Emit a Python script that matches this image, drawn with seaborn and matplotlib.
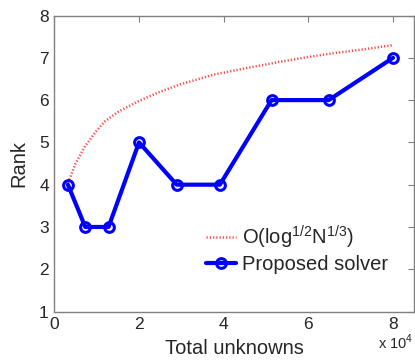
import numpy as np
import pandas as pd
import matplotlib
matplotlib.use("Agg")
import matplotlib.pyplot as plt
import seaborn as sns

# Data (x in units of 10^4)
solver_n = [0.32, 0.73, 1.28, 2.0, 2.89, 3.91, 5.13, 6.48, 8.0]
solver_rank = [4, 3, 3, 5, 4, 4, 6, 6, 7]

# reference curve
bound_n = [0.32, 0.37, 0.5, 0.72, 1.0, 1.2, 1.5, 2.0, 2.5, 3.0, 3.75, 4.5, 5.3, 6.0, 6.6, 7.3, 8.0]
bound_rank = [4.05, 4.16, 4.5, 4.9, 5.28, 5.5, 5.72, 5.98, 6.2, 6.38, 6.6, 6.75, 6.9, 7.02, 7.11, 7.2, 7.3]

x_ticks = [0, 2, 4, 6, 8]
y_ticks = [1, 2, 3, 4, 5, 6, 7, 8]

sns.set_style("white")
plt.rcParams["font.family"] = ["Liberation Sans", "DejaVu Sans"]

fig = plt.figure(figsize=(4.15, 3.61), dpi=100)
ax = fig.add_axes([0.131, 0.137, 0.867, 0.820])

sns.lineplot(x=bound_n, y=bound_rank, ax=ax, color="#ff4a4a", linestyle=(0, (0.5, 0.8)),
             linewidth=1.8, label=r"$\mathregular{O(log^{1/2}N^{1/3})}$")
sns.lineplot(x=solver_n, y=solver_rank, ax=ax, color="#0000ff", linewidth=3,
             marker="o", markersize=7, markerfacecolor="none", markeredgecolor="#0000ff",
             markeredgewidth=2.2, label="Proposed solver")

ax.set_xlim(0, 8.5)
ax.set_ylim(1, 8)
ax.set_xticks(x_ticks)
ax.set_yticks(y_ticks)
ax.tick_params(direction="in", length=4, color="#808080", labelsize=12.5, top=True, right=True,
               labeltop=False, labelright=False, pad=4)
for s in ax.spines.values():
    s.set_color("#808080")
    s.set_linewidth(1.0)

ax.set_xlabel("Total unknowns", fontsize=14.5, labelpad=5)
ax.set_ylabel("Rank", fontsize=14.5, labelpad=8)
fig.text(0.910, 0.053, r"x 10$^{\mathregular{4}}$", fontsize=10.5, ha="left", va="center")

leg = ax.legend(loc="lower right", bbox_to_anchor=(0.95, 0.10), frameon=False, fontsize=14.5,
                handlelength=1.5, handletextpad=0.3, labelspacing=0.2, borderaxespad=0)

fig.savefig("out.png", dpi=100)
